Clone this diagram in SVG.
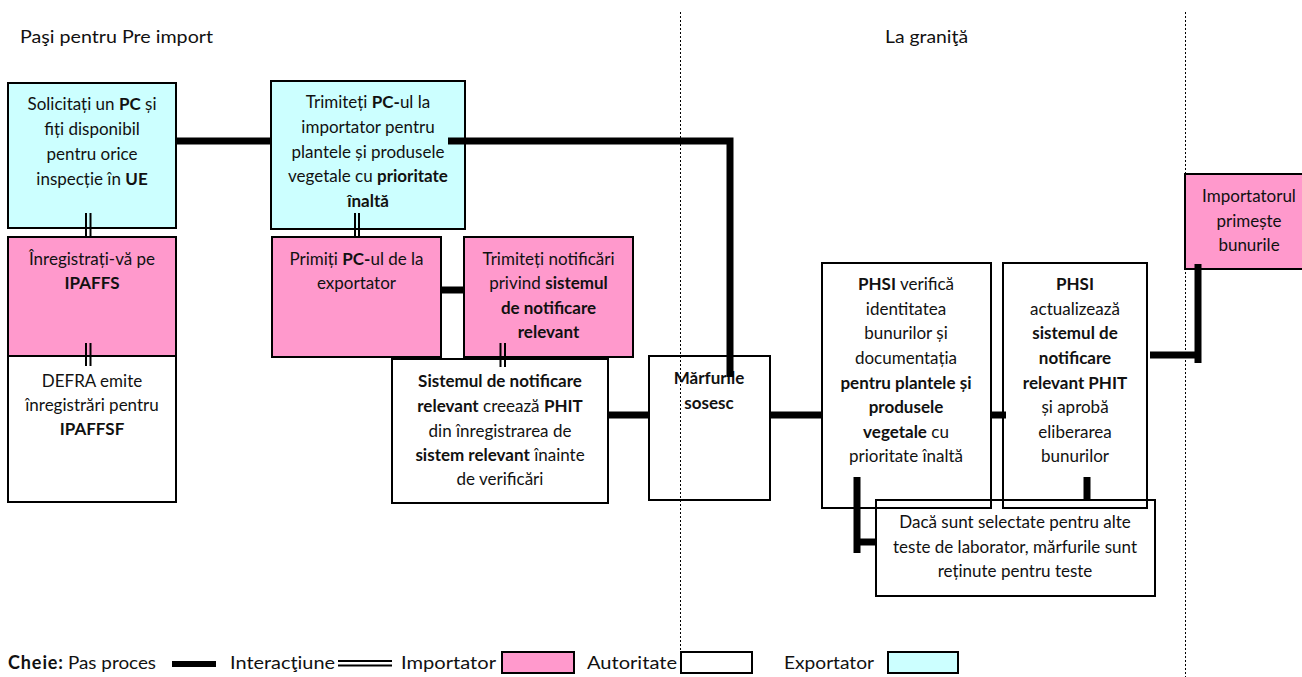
<svg xmlns="http://www.w3.org/2000/svg" width="1302" height="677" viewBox="0 0 1302 677">
<style>
.box{stroke:#000;stroke-width:2}
.imp{fill:#FF99CC}
.exp{fill:#CCFFFF}
.aut{fill:#FFFFFF}
.t{font-family:Lato,"Open Sans","Liberation Sans",sans-serif;font-size:17px;text-anchor:middle;fill:#111}
.h{font-family:Lato,"Open Sans","Liberation Sans",sans-serif;font-size:18px;fill:#111}
.b{font-weight:700}
.thick{stroke:#000;stroke-width:7;fill:none;stroke-linecap:butt;stroke-linejoin:miter}
.dbl{stroke:#000;stroke-width:2}
.dash{stroke:#000;stroke-width:1;stroke-dasharray:2 2}
</style>
<rect x="0" y="0" width="1302" height="677" fill="#FFFFFF"/>

<g id="headers">
<text class="h" x="20" y="43" textLength="193" lengthAdjust="spacingAndGlyphs">Paşi pentru Pre import</text>
<text class="h" x="885" y="43" textLength="83" lengthAdjust="spacingAndGlyphs">La graniţă</text>
</g>

<g id="n-solicitati">
<rect class="box exp" x="8" y="83" width="168" height="145"/>
<text class="t" x="92" y="110">Solicitați un <tspan class="b">PC</tspan> și</text>
<text class="t" x="92" y="135">fiți disponibil</text>
<text class="t" x="92" y="160">pentru orice</text>
<text class="t" x="92" y="185">inspecție în <tspan class="b">UE</tspan></text>
</g>

<g id="n-inregistrati">
<rect class="box imp" x="8" y="237" width="168" height="119"/>
<text class="t" x="92" y="265">Înregistrați-vă pe</text>
<text class="t b" x="92" y="289">IPAFFS</text>
</g>

<g id="n-defra">
<rect class="box aut" x="8" y="356" width="168" height="146"/>
<text class="t" x="92" y="387">DEFRA emite</text>
<text class="t" x="92" y="411">înregistrări pentru</text>
<text class="t b" x="92" y="435">IPAFFSF</text>
</g>

<g id="n-trimiteti-pc">
<rect class="box exp" x="271" y="81" width="194" height="148"/>
<text class="t" x="368" y="108">Trimiteți <tspan class="b">PC-</tspan>ul la</text>
<text class="t" x="368" y="133">importator pentru</text>
<text class="t" x="368" y="158">plantele și produsele</text>
<text class="t" x="368" y="182">vegetale cu <tspan class="b">prioritate</tspan></text>
<text class="t b" x="368" y="207">înaltă</text>
</g>

<g id="n-primiti-pc">
<rect class="box imp" x="272" y="237" width="169" height="120"/>
<text class="t" x="356.5" y="265">Primiți <tspan class="b">PC-</tspan>ul de la</text>
<text class="t" x="356.5" y="289">exportator</text>
</g>

<g id="n-trimiteti-notificari">
<rect class="box imp" x="464" y="237" width="169" height="120"/>
<text class="t" x="548.5" y="265">Trimiteți notificări</text>
<text class="t" x="548.5" y="289">privind <tspan class="b">sistemul</tspan></text>
<text class="t b" x="548.5" y="314">de notificare</text>
<text class="t b" x="548.5" y="338">relevant</text>
</g>

<g id="n-sistemul">
<rect class="box aut" x="392" y="359" width="216" height="144"/>
<text class="t b" x="500" y="387">Sistemul de notificare</text>
<text class="t" x="500" y="412"><tspan class="b">relevant</tspan> creează <tspan class="b">PHIT</tspan></text>
<text class="t" x="500" y="437">din înregistrarea de</text>
<text class="t" x="500" y="461"><tspan class="b">sistem relevant</tspan> înainte</text>
<text class="t" x="500" y="485">de verificări</text>
</g>

<g id="n-marfurile">
<rect class="box aut" x="649" y="356" width="121" height="144"/>
<text class="t b" x="709" y="384">Mărfurile</text>
<text class="t b" x="709" y="409">sosesc</text>
</g>

<g id="n-phsi-verifica">
<rect class="box aut" x="822" y="263" width="169" height="245"/>
<text class="t" x="906" y="290"><tspan class="b">PHSI</tspan> verifică</text>
<text class="t" x="906" y="315">identitatea</text>
<text class="t" x="906" y="339">bunurilor și</text>
<text class="t" x="906" y="364">documentația</text>
<text class="t b" x="906" y="389">pentru plantele și</text>
<text class="t b" x="906" y="413">produsele</text>
<text class="t" x="906" y="438"><tspan class="b">vegetale</tspan> cu</text>
<text class="t" x="906" y="462">prioritate înaltă</text>
</g>

<g id="n-phsi-actualizeaza">
<rect class="box aut" x="1003" y="263" width="144" height="245"/>
<text class="t b" x="1075" y="290">PHSI</text>
<text class="t" x="1075" y="315">actualizează</text>
<text class="t b" x="1075" y="339">sistemul de</text>
<text class="t b" x="1075" y="364">notificare</text>
<text class="t b" x="1075" y="389">relevant PHIT</text>
<text class="t" x="1075" y="413">și aprobă</text>
<text class="t" x="1075" y="438">eliberarea</text>
<text class="t" x="1075" y="462">bunurilor</text>
</g>

<g id="n-teste">
<rect class="box" fill="none" x="876" y="500" width="279" height="96"/>
<text class="t" x="1015" y="528">Dacă sunt selectate pentru alte</text>
<text class="t" x="1015" y="553">teste de laborator, mărfurile sunt</text>
<text class="t" x="1015" y="577">reținute pentru teste</text>
</g>

<g id="n-importatorul">
<rect class="box imp" x="1185" y="174" width="130" height="95"/>
<text class="t" x="1249" y="202">Importatorul</text>
<text class="t" x="1249" y="227">primește</text>
<text class="t" x="1249" y="251">bunurile</text>
</g>

<g id="connectors">
<line class="thick" x1="176" y1="141" x2="271" y2="141"/>
<polyline class="thick" points="448,141 730,141 730,377"/>
<line class="thick" x1="441" y1="290" x2="464" y2="290"/>
<line class="thick" x1="608" y1="415" x2="649" y2="415"/>
<line class="thick" x1="770" y1="415" x2="822" y2="415"/>
<line class="thick" x1="991" y1="415" x2="1006" y2="415"/>
<line class="thick" x1="857" y1="477" x2="857" y2="553"/>
<line class="thick" x1="857" y1="542" x2="876" y2="542"/>
<line class="thick" x1="1087" y1="477" x2="1087" y2="500"/>
<line class="thick" x1="1150" y1="355" x2="1201" y2="355"/>
<line class="thick" x1="1198" y1="264" x2="1198" y2="363"/>
<line class="dbl" x1="86" y1="213" x2="86" y2="237"/>
<line class="dbl" x1="90.5" y1="213" x2="90.5" y2="237"/>
<line class="dbl" x1="86" y1="343" x2="86" y2="366"/>
<line class="dbl" x1="90.5" y1="343" x2="90.5" y2="366"/>
<line class="dbl" x1="355" y1="213" x2="355" y2="237"/>
<line class="dbl" x1="359" y1="213" x2="359" y2="237"/>
<line class="dbl" x1="500.5" y1="343" x2="500.5" y2="367"/>
<line class="dbl" x1="505" y1="343" x2="505" y2="367"/>
</g>

<g id="dividers">
<line class="dash" x1="680.5" y1="12" x2="680.5" y2="652"/>
<line class="dash" x1="1185.5" y1="12" x2="1185.5" y2="677"/>
</g>

<g id="legend">
<text class="h" x="8" y="669"><tspan class="b" textLength="55">Cheie:</tspan></text>
<text class="h" x="68" y="669" textLength="88" lengthAdjust="spacingAndGlyphs">Pas proces</text>
<rect x="172" y="661" width="44" height="6" fill="#000"/>
<text class="h" x="230" y="669" textLength="105" lengthAdjust="spacingAndGlyphs">Interacţiune</text>
<line class="dbl" x1="338" y1="661" x2="392" y2="661"/>
<line class="dbl" x1="338" y1="665.5" x2="392" y2="665.5"/>
<text class="h" x="401" y="669" textLength="95" lengthAdjust="spacingAndGlyphs">Importator</text>
<rect class="box imp" x="502" y="652" width="72" height="21"/>
<text class="h" x="587" y="669" textLength="90" lengthAdjust="spacingAndGlyphs">Autoritate</text>
<rect class="box aut" x="681" y="652" width="71" height="21"/>
<text class="h" x="784" y="669" textLength="90" lengthAdjust="spacingAndGlyphs">Exportator</text>
<rect class="box exp" x="888" y="652" width="70" height="21"/>
</g>
</svg>
